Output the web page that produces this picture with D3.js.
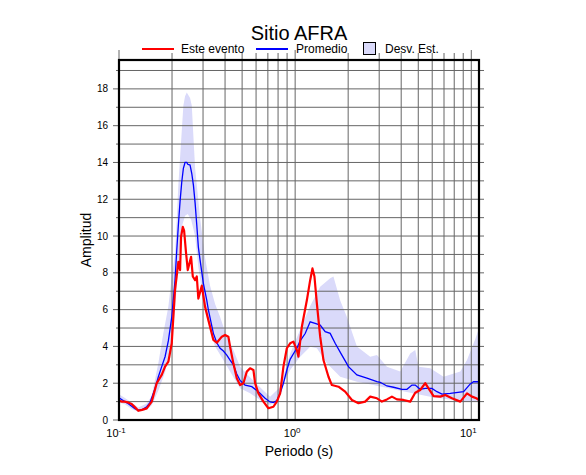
<!DOCTYPE html>
<html>
<head>
<meta charset="utf-8">
<script src="https://cdn.jsdelivr.net/npm/d3@7"></script>
<style>
  body { margin: 0; background: #fff; }
  svg text { font-family: "Liberation Sans", Arial, Helvetica, sans-serif; fill: #000; }
</style>
</head>
<body>
<div class="chart"></div>
<script>
// ---- data (periodo [s], amplitud) ----
var esteEvento = [
  [0.100,1.05],[0.104,1.0],[0.108,1.0],[0.1125,0.95],[0.118,0.87],[0.123,0.7],[0.1287,0.5],
  [0.135,0.55],[0.1437,0.63],[0.1534,1.0],[0.1637,2.0],[0.1748,2.45],[0.1826,2.9],[0.1906,3.17],
  [0.1993,4.17],[0.2035,5.6],[0.208,7.07],[0.2173,8.6],[0.2222,8.15],[0.2251,9.96],[0.2302,10.5],
  [0.2342,10.3],[0.2403,9.07],[0.2457,8.15],[0.2566,8.87],[0.2624,7.8],[0.2704,7.6],[0.2764,7.8],
  [0.2822,6.6],[0.2951,7.3],[0.3081,6.15],[0.3217,5.43],[0.3434,4.35],[0.3591,4.2],[0.3834,4.53],
  [0.4002,4.62],[0.4178,4.53],[0.4272,3.98],[0.446,3.08],[0.4663,2.27],[0.4869,1.9],[0.5084,2.0],
  [0.5315,2.63],[0.5549,2.81],[0.5795,2.72],[0.5925,2.0],[0.6187,1.45],[0.6604,1.0],[0.705,0.64],
  [0.7526,0.72],[0.787,1.0],[0.8219,1.45],[0.8581,2.9],[0.8971,3.9],[0.9367,4.17],[0.9779,4.26],
  [1.0226,3.8],[1.0443,3.44],[1.0915,5.07],[1.166,6.52],[1.217,7.6],[1.254,8.24],[1.287,7.8],
  [1.328,6.34],[1.387,4.53],[1.448,3.26],[1.546,2.35],[1.616,1.9],[1.762,1.81],[1.923,1.54],
  [2.100,1.09],[2.289,0.91],[2.498,1.0],[2.668,1.27],[2.913,1.18],[3.109,1.0],[3.319,1.12],
  [3.543,1.27],[3.783,1.12],[4.124,1.09],[4.502,1.0],[4.806,1.48],[5.128,1.63],[5.478,2.0],
  [5.72,1.72],[6.107,1.3],[6.666,1.27],[7.117,1.36],[7.768,1.18],[8.66,1.0],[9.455,1.45],
  [10.09,1.27],[10.68,1.18],[11.06,1.09]
];
var promedio = [
  [0.100,1.2],[0.104,1.1],[0.108,1.0],[0.1125,0.9],[0.118,0.75],[0.123,0.62],[0.1287,0.54],
  [0.135,0.56],[0.1437,0.72],[0.150,0.95],[0.160,1.7],[0.1673,2.35],[0.1748,2.9],[0.1826,3.44],
  [0.1906,4.3],[0.1993,5.6],[0.208,7.6],[0.2127,9.2],[0.2173,10.6],[0.2222,11.9],[0.2272,12.95],
  [0.232,13.68],[0.2371,14.0],[0.2425,14.0],[0.2457,13.9],[0.2532,13.86],[0.2589,13.4],
  [0.2645,12.77],[0.2704,11.8],[0.2764,10.6],[0.2822,9.4],[0.2885,8.7],[0.3013,7.43],[0.315,6.5],
  [0.3217,5.98],[0.3434,4.71],[0.3591,4.2],[0.375,3.9],[0.3914,3.75],[0.4092,3.53],[0.4272,3.25],
  [0.446,3.0],[0.4663,2.5],[0.4869,2.15],[0.5198,1.9],[0.5675,1.81],[0.6187,1.54],[0.6752,1.18],
  [0.7209,0.98],[0.7526,0.95],[0.787,1.05],[0.8219,1.45],[0.8581,2.0],[0.8971,2.72],[0.9367,3.3],
  [0.9779,3.6],[1.0226,3.9],[1.0676,4.3],[1.14,4.7],[1.217,5.34],[1.299,5.25],[1.387,5.16],
  [1.481,4.8],[1.581,4.71],[1.687,4.17],[1.842,3.53],[2.008,2.9],[2.242,2.45],[2.555,2.27],
  [2.913,2.08],[3.041,2.05],[3.319,1.85],[3.618,1.78],[4.039,1.67],[4.312,1.67],[4.603,1.9],
  [4.806,1.9],[5.128,1.67],[5.478,1.72],[5.98,1.72],[6.384,1.54],[6.816,1.41],[7.598,1.45],
  [9.043,1.54],[9.87,1.96],[10.3,2.08],[11.06,2.08]
];
var desvSup = [
  [0.100,1.4],[0.108,1.2],[0.118,0.95],[0.1287,0.68],[0.1437,0.9],[0.1534,1.3],[0.1673,3.1],
  [0.1785,4.71],[0.1906,6.16],[0.1993,7.8],[0.208,9.0],[0.2173,12.8],[0.232,17.1],[0.2371,17.6],
  [0.2425,17.8],[0.2532,17.5],[0.2589,17.1],[0.2704,13.7],[0.2885,11.0],[0.3081,8.8],[0.3289,7.3],
  [0.3512,6.3],[0.375,5.6],[0.4002,4.8],[0.446,3.8],[0.4869,2.9],[0.5315,2.5],[0.6604,1.6],
  [0.7209,1.27],[0.8219,1.8],[0.9367,3.6],[1.0676,4.9],[1.217,6.2],[1.387,7.25],[1.581,7.7],
  [1.65,7.8],[1.802,6.5],[1.967,5.6],[2.242,4.0],[2.668,3.44],[2.913,3.53],[3.319,2.9],[3.95,2.63],
  [4.502,3.62],[4.806,3.8],[5.016,2.9],[5.848,2.81],[6.96,2.35],[8.66,2.63],[9.455,3.26],
  [10.54,4.4],[11.06,5.0]
];
var desvInf = [
  [0.100,0.95],[0.108,0.85],[0.118,0.6],[0.1287,0.45],[0.1437,0.55],[0.1534,0.8],[0.1673,1.6],
  [0.1826,2.6],[0.1993,4.2],[0.208,6.0],[0.2173,8.5],[0.2272,10.5],[0.2371,11.1],[0.2457,11.2],
  [0.2566,10.9],[0.2704,10.0],[0.2822,8.3],[0.3013,6.5],[0.3217,5.2],[0.3512,4.0],[0.3834,3.4],
  [0.4272,2.63],[0.4869,1.72],[0.5549,1.45],[0.6325,1.09],[0.7209,0.81],[0.787,1.09],[0.8581,2.0],
  [0.9367,2.72],[1.0676,3.44],[1.217,3.98],[1.328,3.9],[1.514,3.08],[1.802,2.35],[2.242,2.08],
  [2.786,1.9],[3.783,1.63],[5.848,1.27],[9.043,1.0],[11.06,1.0]
];
var yTicks = [0,2,4,6,8,10,12,14,16,18];
var xTickDecades = [0.1, 1, 10];
var xTickExp = ["-1", "0", "1"];
var legendItems = ["Este evento", "Promedio", "Desv. Est."];

var width = 586, height = 475;
var mLeft = 119, mRight = 479, mTop = 60, mBottom = 420;

var svg = d3.select(".chart").append("svg")
  .attr("width", width)
  .attr("height", height);

var x = d3.scaleLog().domain([0.1, 11.06]).range([mLeft, mRight]);
var y = d3.scaleLinear().domain([0, 19.57]).range([mBottom, mTop]);

var line = d3.line()
  .x(function(d){ return x(d[0]); })
  .y(function(d){ return y(d[1]); });

/************* band ***************/
var bandPts = desvSup.concat(desvInf.slice().reverse());
svg.append("path")
  .attr("d", line(bandPts) + "Z")
  .attr("fill", "rgb(218,218,250)")
  .attr("stroke", "none");

/************* grid ***************/
var vLines = [];
xTickDecades.forEach(function(dec){
  for (var k = 1; k <= 9; k++) {
    var v = +(k * dec).toFixed(3);
    if (v <= 11.06) vLines.push(v);
  }
});
svg.append("g").selectAll("line")
  .data(vLines)
  .enter().append("line")
    .attr("x1", d => x(d)).attr("x2", d => x(d))
    .attr("y1", d => (xTickDecades.indexOf(d) >= 0 ? mTop - 10 : mTop - 7))
    .attr("y2", mBottom)
    .attr("stroke", "#666")
    .attr("stroke-width", 1);

var hLines = d3.range(1, 20);
svg.append("g").selectAll("line")
  .data(hLines)
  .enter().append("line")
    .attr("x1", d => (d % 2 === 0 ? mLeft - 6 : mLeft - 3))
    .attr("x2", mRight + 5)
    .attr("y1", d => y(d)).attr("y2", d => y(d))
    .attr("stroke", "#666")
    .attr("stroke-width", 1);
// tick at zero
svg.append("line")
  .attr("x1", mLeft - 6).attr("x2", mLeft)
  .attr("y1", y(0)).attr("y2", y(0))
  .attr("stroke", "#666");

/************* curves ***************/
svg.append("path")
  .attr("d", line(promedio))
  .attr("fill", "none")
  .attr("stroke", "#0000ff")
  .attr("stroke-width", 1.3);

svg.append("path")
  .attr("d", line(esteEvento))
  .attr("fill", "none")
  .attr("stroke", "#ff0000")
  .attr("stroke-width", 2.2)
  .attr("stroke-linejoin", "round");

/************* frame ***************/
svg.append("rect")
  .attr("x", mLeft).attr("y", mTop)
  .attr("width", mRight - mLeft).attr("height", mBottom - mTop)
  .attr("fill", "none")
  .attr("stroke", "#000")
  .attr("stroke-width", 2.2);

/************* axes labels ***************/
svg.append("g").selectAll("text")
  .data(yTicks)
  .enter().append("text")
    .attr("x", mLeft - 11)
    .attr("y", d => y(d) + 3.5)
    .attr("text-anchor", "end")
    .attr("font-size", 10)
    .text(d => d);

var xl = svg.append("g").selectAll("text")
  .data(xTickDecades)
  .enter().append("text")
    .attr("x", d => x(d) - 3)
    .attr("y", mBottom + 17)
    .attr("text-anchor", "middle")
    .attr("font-size", 11);
xl.append("tspan").text("10");
xl.append("tspan")
  .attr("dy", -4)
  .attr("font-size", 8)
  .text((d, i) => xTickExp[i]);

svg.append("text")
  .attr("x", (mLeft + mRight) / 2)
  .attr("y", 456)
  .attr("text-anchor", "middle")
  .attr("font-size", 14)
  .text("Periodo (s)");

svg.append("text")
  .attr("transform", "translate(91," + ((mTop + mBottom) / 2) + ") rotate(-90)")
  .attr("text-anchor", "middle")
  .attr("font-size", 14)
  .text("Amplitud");

svg.append("text")
  .attr("x", (mLeft + mRight) / 2)
  .attr("y", 40)
  .attr("text-anchor", "middle")
  .attr("font-size", 20)
  .text("Sitio AFRA");

/************* legend ***************/
var lg = svg.append("g").attr("class", "legend");
lg.append("line").attr("x1", 142).attr("x2", 174).attr("y1", 49).attr("y2", 49)
  .attr("stroke", "#ff0000").attr("stroke-width", 2);
lg.append("text").attr("x", 181).attr("y", 53).attr("font-size", 12).text(legendItems[0]);
lg.append("line").attr("x1", 256).attr("x2", 288).attr("y1", 49).attr("y2", 49)
  .attr("stroke", "#0000ff").attr("stroke-width", 2);
lg.append("text").attr("x", 296).attr("y", 53).attr("font-size", 12).text(legendItems[1]);
lg.append("rect").attr("x", 363.5).attr("y", 42.5).attr("width", 12).attr("height", 12)
  .attr("fill", "rgb(218,218,250)").attr("stroke", "#000").attr("stroke-width", 1);
lg.append("text").attr("x", 385).attr("y", 53).attr("font-size", 12).text(legendItems[2]);
</script>
</body>
</html>
